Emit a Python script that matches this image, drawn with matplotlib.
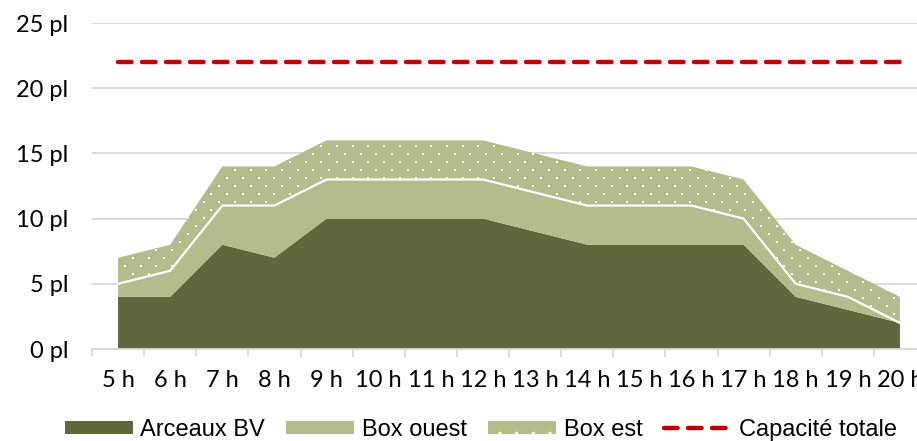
import matplotlib
matplotlib.use("Agg")
import matplotlib.pyplot as plt
from matplotlib.patches import Patch
from matplotlib.lines import Line2D
import numpy as np

plt.rcParams['font.family'] = ['Lato', 'DejaVu Sans']
plt.rcParams['hatch.linewidth'] = 0.0

hours = ["5 h", "6 h", "7 h", "8 h", "9 h", "10 h", "11 h", "12 h",
         "13 h", "14 h", "15 h", "16 h", "17 h", "18 h", "19 h", "20 h"]
arceaux_bv = [4, 4, 8, 7, 10, 10, 10, 10, 9, 8, 8, 8, 8, 4, 3, 2]
box_ouest = [1, 2, 3, 4, 3, 3, 3, 3, 3, 3, 3, 3, 2, 1, 1, 0]
box_est = [2, 2, 3, 3, 3, 3, 3, 3, 3, 3, 3, 3, 3, 3, 2, 2]
capacite_totale = 22
y_ticks = [0, 5, 10, 15, 20, 25]
y_labels = ["0 pl", "5 pl", "10 pl", "15 pl", "20 pl", "25 pl"]
series_names = ["Arceaux BV", "Box ouest", "Box est", "Capacité totale"]

c_dark = "#5f673d"
c_light = "#b4bc8e"
c_red = "#c00000"
c_grid = "#d9d9d9"

x = np.arange(len(hours))
lvl1 = np.array(arceaux_bv, dtype=float)
lvl2 = lvl1 + np.array(box_ouest)
lvl3 = lvl2 + np.array(box_est)

fig = plt.figure(figsize=(9.17, 4.41), dpi=100)
ax = fig.add_axes([92 / 917, 92 / 441, 834 / 917, 326 / 441])
ax.set_xlim(-0.5, len(hours) - 0.5)
ax.set_ylim(0, 25)

ax.fill_between(x, 0, lvl1, facecolor=c_dark, edgecolor="none", linewidth=0, zorder=2)
ax.fill_between(x, lvl1, lvl2, facecolor=c_light, edgecolor="none", linewidth=0, zorder=2)
est_poly = ax.fill_between(x, lvl2, lvl3, facecolor=c_light, edgecolor="none",
                           linewidth=0, zorder=2)

# dotted texture on the "Box est" band: staggered rows of small white dots
step_x, step_y = 15.7, 8.0
px0, py0 = ax.transData.transform((x[0], 0))
px1, py1 = ax.transData.transform((x[-1], lvl3.max()))
grid_pts = []
for i, py in enumerate(np.arange(py0 + 3, py1 + step_y, step_y)):
    shift = 0.0 if i % 2 == 0 else step_x / 2
    for px in np.arange(px0 + 7 + shift, px1, step_x):
        grid_pts.append((px, py))
grid_data = ax.transData.inverted().transform(np.array(grid_pts))
dots = ax.scatter(grid_data[:, 0], grid_data[:, 1], marker="s", s=2.2,
                  color="white", linewidths=0, zorder=3)
dots.set_clip_path(est_poly.get_paths()[0], ax.transData)

ax.plot(x, lvl2, color="white", linewidth=1.6, zorder=4)
ax.plot(x, [capacite_totale] * len(x), color=c_red, linewidth=3.2,
        dashes=(3.05, 2.35), dash_capstyle="round", zorder=5)

ax.set_yticks(y_ticks)
ax.set_yticklabels(y_labels)
ax.set_xticks(x)
ax.set_xticklabels(hours)
ax.set_xticks(np.arange(-0.5, len(hours), 1.0), minor=True)

ax.tick_params(axis="y", length=0, pad=17, labelsize=17)
ax.tick_params(axis="x", which="major", length=0, pad=15, labelsize=17)
ax.tick_params(axis="x", which="minor", length=6, color=c_grid, width=1.3)

ax.grid(axis="y", color=c_grid, linewidth=1.3, zorder=0)
ax.set_axisbelow(True)
for side in ("left", "right", "top"):
    ax.spines[side].set_visible(False)
ax.spines["bottom"].set_color(c_grid)
ax.spines["bottom"].set_linewidth(1.3)

handles = [
    Patch(facecolor=c_dark, edgecolor="none"),
    Patch(facecolor=c_light, edgecolor="none"),
    Patch(facecolor=c_light, edgecolor="white", hatch=".", linewidth=0),
    Line2D([0], [0], color=c_red, linewidth=3.2, dashes=(3.05, 2.35),
           dash_capstyle="round"),
]
fig.legend(handles, series_names, loc="center", bbox_to_anchor=(481 / 917, 1 - 430 / 441),
           ncol=4, frameon=False, prop={"family": ["Liberation Sans", "DejaVu Sans"], "size": 17},
           handlelength=2.88, handleheight=0.5, handletextpad=0.3, columnspacing=0.93,
           borderpad=0, borderaxespad=0)

fig.savefig("out.png", dpi=100)
